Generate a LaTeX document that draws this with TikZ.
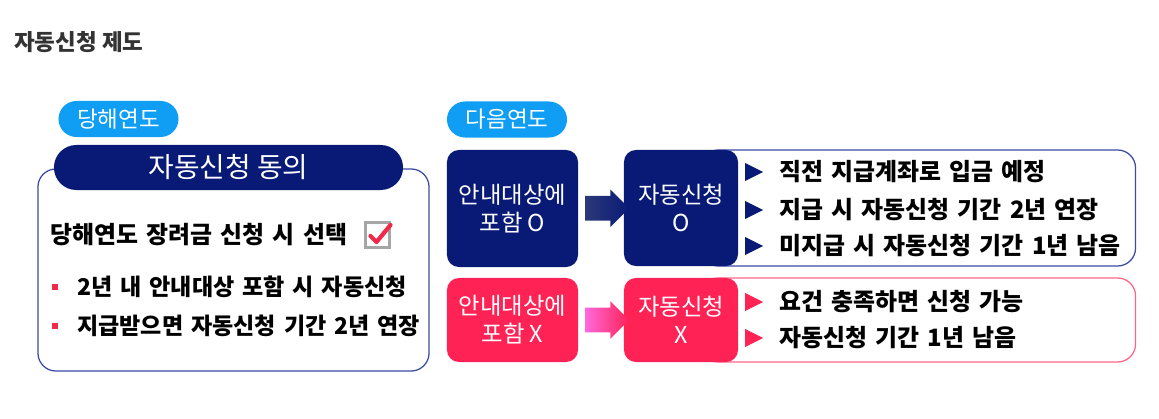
\documentclass[tikz,border=0pt]{standalone}
\usepackage{fontspec}
\setmainfont{Noto Sans CJK KR}
\newfontfamily\widekr{Noto Sans CJK KR}[WordSpace=1.5]
\usepackage{xcolor}
\usepackage{tikz}
\usetikzlibrary{arrows.meta,positioning,shapes.arrows,calc}

\definecolor{navy}{RGB}{8,26,118}
\definecolor{navyline}{RGB}{58,76,165}
\definecolor{skyblue}{RGB}{16,158,245}
\definecolor{hotpink}{RGB}{255,34,85}
\definecolor{pinkline}{RGB}{255,102,136}
\definecolor{bulletred}{RGB}{240,40,74}
\definecolor{titlegray}{RGB}{51,51,51}

\begin{document}
\begin{tikzpicture}[x=0.025cm, y=-0.025cm,
  pill/.style={fill=skyblue, rounded corners=0.45cm, minimum width=3cm, minimum height=0.9cm, text=white, font=\fontsize{16}{18}\selectfont, inner sep=0pt},
  block/.style={rounded corners=0.3cm, text=white, align=center, inner sep=0pt, font=\fontsize{16.6}{20}\selectfont},
  frame/.style={draw, rounded corners=0.45cm, line width=0.9pt, inner sep=0pt},
  item/.style={anchor=west, inner sep=0pt, font=\widekr\fontsize{17}{19}\selectfont\bfseries},
  rule/.style={item, font=\widekr\fontsize{16.4}{19}\selectfont\bfseries},
  garrow/.style={single arrow, minimum height=1.1cm, minimum width=0.925cm, inner sep=0.3cm, single arrow head extend=0.16cm, shading angle=90, draw=none}
]
\useasboundingbox (0,0) rectangle (1159,419);

% title
\node[anchor=west, inner sep=0pt, text=titlegray, font=\fontsize{16}{18}\selectfont\bfseries] (title) at (14,42) {자동신청 제도};

% this year
\node[pill] (thisyear) at (118.5,119) {당해연도};
\node[frame, draw=navyline, minimum width=9.775cm, minimum height=5.05cm] (consent) at (233.5,270) {};
\node[fill=navy, rounded corners=0.56cm, minimum width=8.725cm, minimum height=1.125cm, text=white, inner sep=0pt, font=\fontsize{19.8}{22}\selectfont] (consenthead) at (228.5,167.5) {자동신청 동의};
\node[item] (choose) at (50,235) {당해연도 장려금 신청 시 선택};
\node[draw=gray!70, line width=2.2pt, minimum size=0.62cm, inner sep=0pt] (checkbox) at (377.5,235) {};
\draw[bulletred, line width=3pt, line cap=round, line join=round] ($(checkbox.center)+(-7,1)$) -- ($(checkbox.center)+(-1,7)$) -- ($(checkbox.center)+(13,-10)$);
\foreach \y/\t [count=\i] in {287/2년 내 안내대상 포함 시 자동신청, 326/지급받으면 자동신청 기간 2년 연장} {
  \fill[bulletred] (51.5,\y-3) rectangle (57.5,\y+3);
  \node[rule] (rule\i) at (77,\y) {\t};
}

% next year
\node[pill] (nextyear) at (507,119.5) {다음연도};

% included
\node[frame, draw=navyline, minimum width=10.875cm, minimum height=2.9cm] (outO) at (918,208) {};
\node[block, fill=navy, minimum width=3.275cm, minimum height=2.925cm] (inO) at (512.5,208.5) {안내대상에\\포함 O};
\node[block, fill=navy, minimum width=2.85cm, minimum height=2.9cm] (autoO) at (681,208) {자동신청\\O};
\node[garrow, left color=navy!70!gray, right color=navy] (arrO) at ($(inO.east)!0.5!(autoO.west)$) {};
\foreach \y/\t [count=\i] in {172/직전 지급계좌로 입금 예정, 210/지급 시 자동신청 기간 2년 연장, 246/미지급 시 자동신청 기간 1년 남음} {
  \fill[navy] (745,\y-9) -- (763,\y) -- (745,\y+9) -- cycle;
  \node[item] (o\i) at (779,\y) {\t};
}

% not included
\node[frame, draw=pinkline, minimum width=10.875cm, minimum height=2.1cm] (outX) at (918,320) {};
\node[block, fill=hotpink, minimum width=3.275cm, minimum height=2.1cm] (inX) at (512.5,320) {안내대상에\\포함 X};
\node[block, fill=hotpink, minimum width=2.85cm, minimum height=2.1cm] (autoX) at (681,320) {자동신청\\X};
\node[garrow, left color=magenta!45!pink, right color=hotpink] (arrX) at ($(inX.east)!0.5!(autoX.west)$) {};
\foreach \y/\t [count=\i] in {302/요건 충족하면 신청 가능, 338/자동신청 기간 1년 남음} {
  \fill[hotpink] (745,\y-9) -- (763,\y) -- (745,\y+9) -- cycle;
  \node[item] (x\i) at (779,\y) {\t};
}
\end{tikzpicture}
\end{document}
